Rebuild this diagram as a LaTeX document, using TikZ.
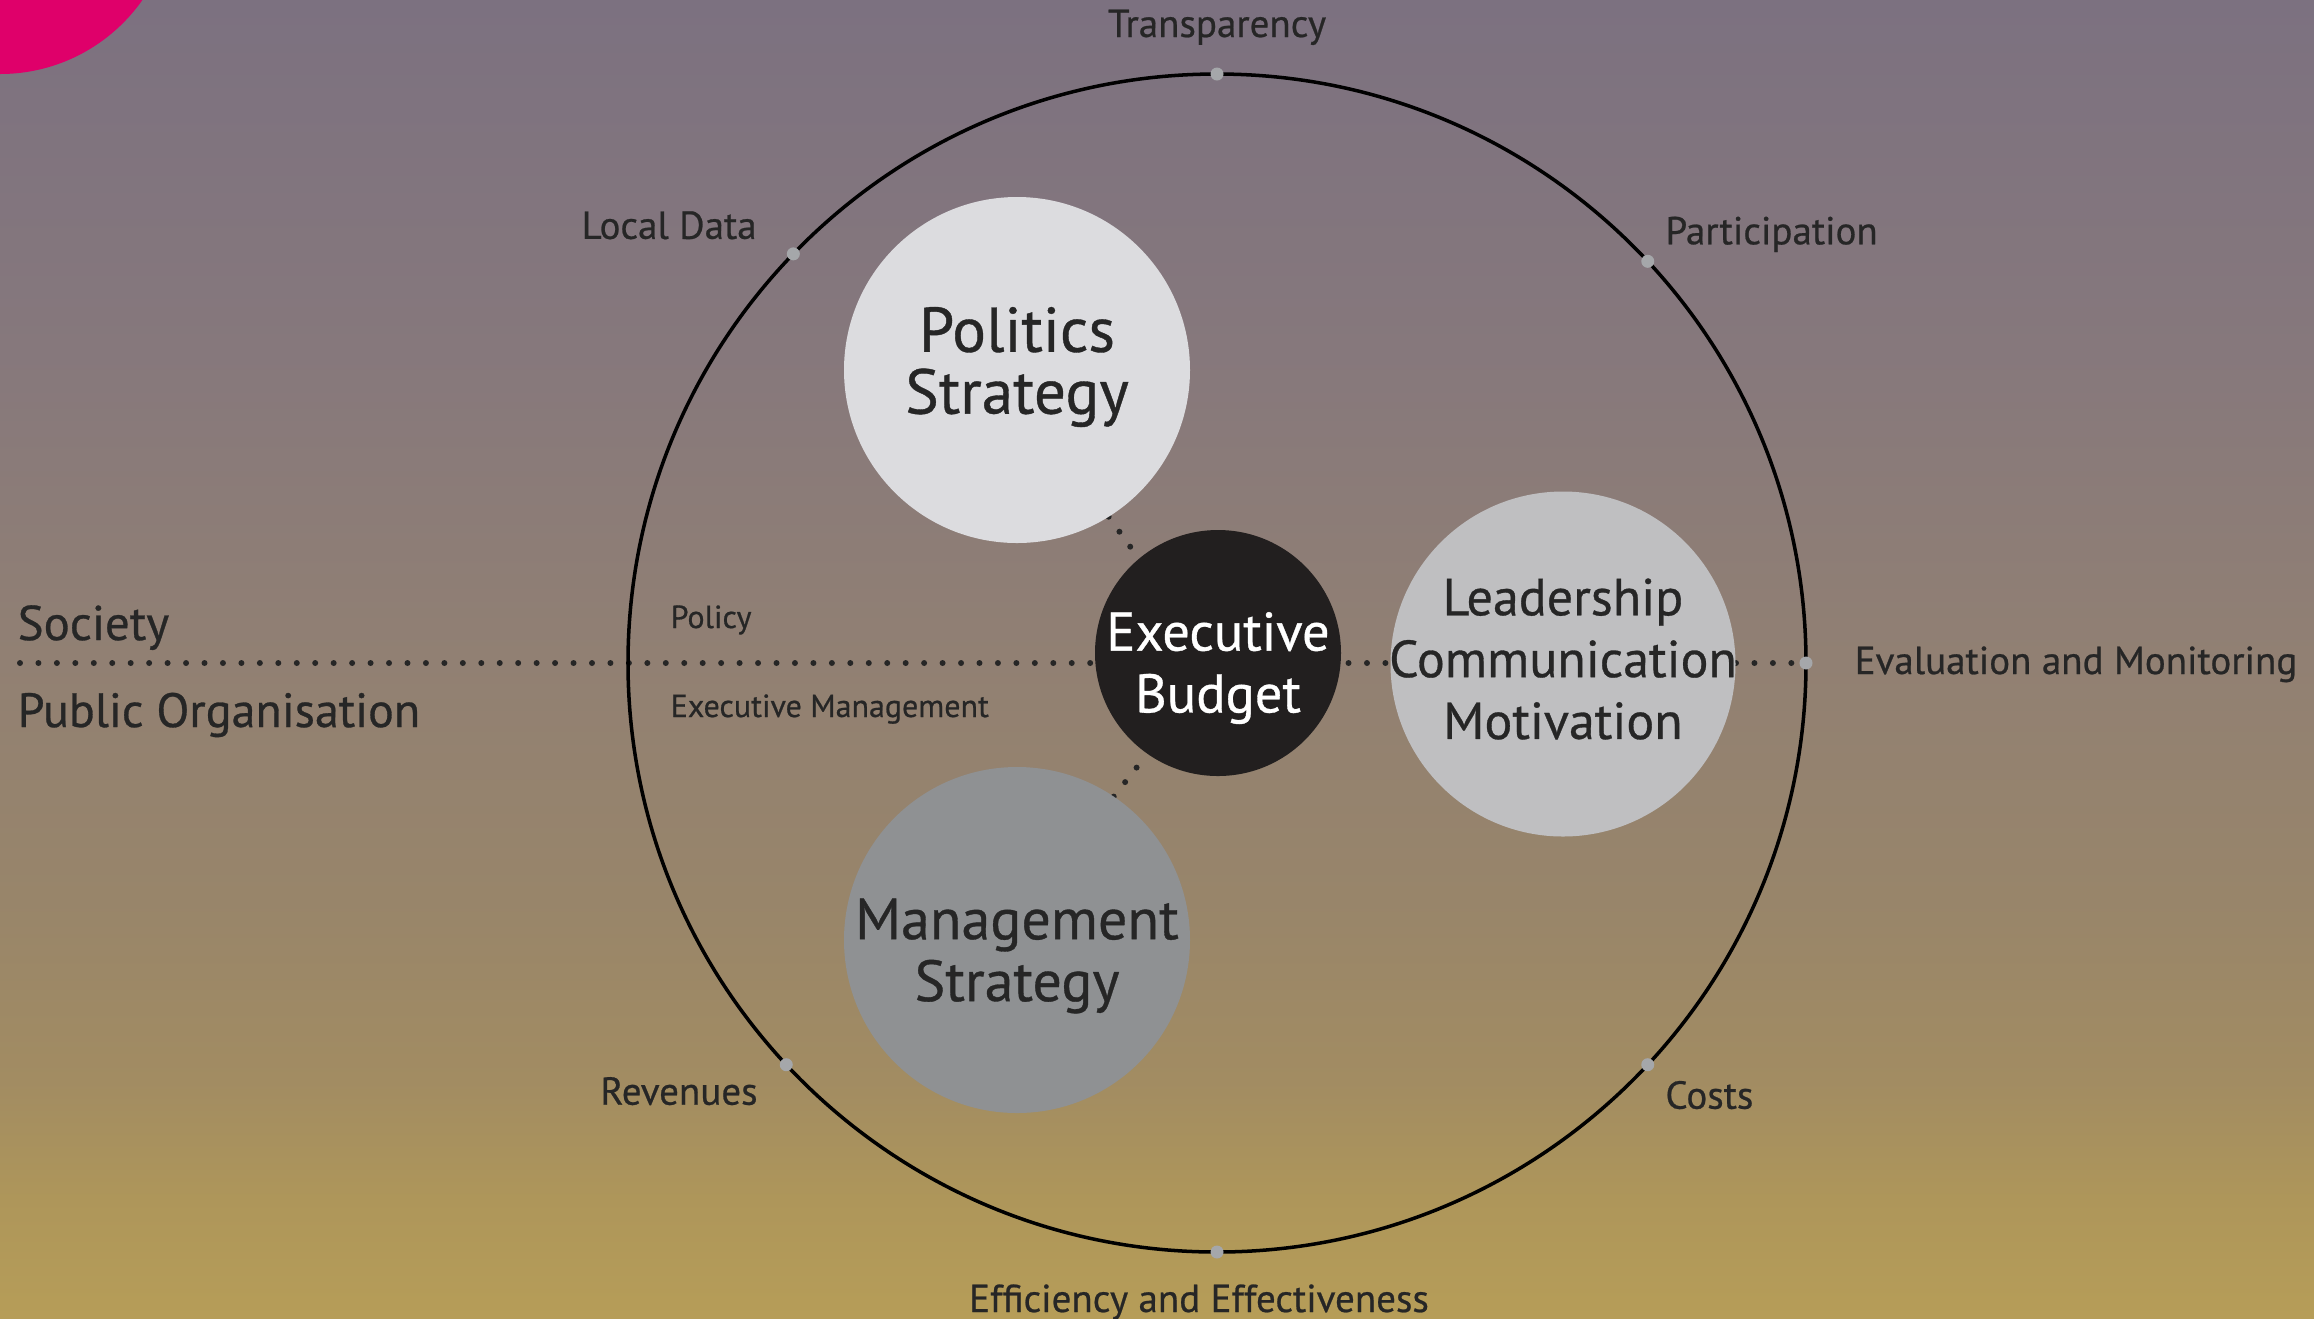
\documentclass[tikz,border=0pt]{standalone}
\usepackage{fontspec}
\setmainfont{PT Sans}[FakeBold=0.6]
\usetikzlibrary{calc}

\definecolor{ink}{HTML}{262626}
\definecolor{ringgrey}{HTML}{A5A7AA}
\definecolor{discA}{HTML}{DCDCDF}
\definecolor{discB}{HTML}{BFBFC1}
\definecolor{discC}{HTML}{8F9193}
\definecolor{discD}{HTML}{221F1F}
\definecolor{pinkdisc}{HTML}{DF006A}
\definecolor{bgA}{RGB}{182,157,88}
\definecolor{bgB}{RGB}{174,150,90}
\definecolor{bgC}{RGB}{162,140,98}
\definecolor{bgD}{RGB}{152,133,106}
\definecolor{bgE}{RGB}{145,128,115}
\definecolor{bgF}{RGB}{134,120,124}
\definecolor{bgG}{RGB}{124,113,128}

\pgfdeclareverticalshading{bgshade}{100bp}{color(0bp)=(bgA); color(25bp)=(bgA);
  color(29.5bp)=(bgB); color(34bp)=(bgC); color(40.9bp)=(bgD); color(50bp)=(bgE);
  color(61.7bp)=(bgF); color(75bp)=(bgG); color(100bp)=(bgG)}

\pgfdeclarelayer{bottom}
\pgfdeclarelayer{back}
\pgfsetlayers{bottom,back,main}

\begin{document}
\begin{tikzpicture}[
    disc/.style={circle, inner sep=0pt, outer sep=0pt, minimum size=3.46cm},
    disctext/.style={align=center, text=ink, inner sep=0pt, font=\fontsize{18}{17.6}\selectfont},
    lbl/.style={text=ink, inner sep=0pt, font=\fontsize{11.1}{13}\selectfont},
    dotline/.style={draw=ink, line width=1.7pt, line cap=round, dash pattern=on 0pt off 5.25pt},
    ringdot/.style={circle, fill=ringgrey, inner sep=0pt, minimum size=0.13cm}]

    % 背景
    \useasboundingbox (0,0) rectangle (23.14,-13.18);
    \begin{pgfonlayer}{bottom}
        \shade[shading=bgshade] (0,0) rectangle (23.14,-13.18);
    \end{pgfonlayer}

    % 左上角的圆
    \begin{scope}
        \clip (0,0) rectangle (23.14,-13.18);
        \fill[pinkdisc] (0,1.00) circle (1.74);
    \end{scope}

    % 大圆
    \node[circle, draw=black, line width=1pt, inner sep=0pt, outer sep=0pt,
          minimum size=11.78cm] (ring) at (12.17,-6.63) {};
    \coordinate (lineend) at (0.20,-6.63);

    % 四个圆
    \node[disc, fill=discA] (politics) at (10.17,-3.70) {};
    \node[disc, fill=discD, minimum size=2.46cm] (exec) at (12.18,-6.53) {};
    \node[disc, fill=discB, minimum size=3.45cm] (leader) at (15.63,-6.64) {};
    \node[disc, fill=discC] (mgmt) at (10.17,-9.40) {};

    \node[disctext] (politicstext) at ([yshift=0.03cm]politics.center) {Politics\\Strategy};
    \node[disctext, text=white, font=\fontsize{15.5}{17.6}\selectfont]
        (exectext) at ([yshift=-0.15cm]exec.center) {Executive\\Budget};
    \node[disctext, font=\fontsize{14.8}{17.6}\selectfont]
        (leadertext) at ([yshift=0.05cm]leader.center) {Leadership\\Communication\\Motivation};
    \node[disctext, font=\fontsize{16.5}{17.6}\selectfont]
        (mgmttext) at ([yshift=-0.16cm]mgmt.center) {Management\\Strategy};

    % 点线
    \begin{pgfonlayer}{back}
        \draw[dotline] (lineend) -- (ring.east);
        \draw[dotline] (politics.-58) -- (exec.130);
        \draw[dotline] (mgmt.56) -- (exec.235);
    \end{pgfonlayer}

    % 大圆上的小点
    \foreach \a/\n in {90/top, 270/bot, 0/right, 43.7/ne, 136.2/nw, 223.2/sw, 317/se} {
        \node[ringdot] (rd\n) at (ring.\a) {};
    }

    % 标注
    \node[lbl, anchor=base] (transp) at ([yshift=0.37cm]rdtop) {Transparency};
    \node[lbl, anchor=base east] (localdata) at ([xshift=-0.36cm, yshift=0.15cm]rdnw) {Local Data};
    \node[lbl, anchor=base west] (partic) at ([xshift=0.17cm, yshift=0.17cm]rdne) {Participation};
    \node[lbl, anchor=base west] (evalmon) at ([xshift=0.48cm, yshift=-0.11cm]rdright) {Evaluation and Monitoring};
    \node[lbl, anchor=base east] (revenues) at ([xshift=-0.28cm, yshift=-0.40cm]rdsw) {Revenues};
    \node[lbl, anchor=base west] (costs) at ([xshift=0.17cm, yshift=-0.44cm]rdse) {Costs};
    \node[lbl, anchor=base] (effic) at ([xshift=-0.18cm, yshift=-0.60cm]rdbot) {Efficiency and Effectiveness};

    \node[lbl, anchor=base west, font=\fontsize{13.9}{16}\selectfont] (society) at (0.17,-6.40) {Society};
    \node[lbl, anchor=base west, font=\fontsize{13.7}{16}\selectfont] (publicorg) at (0.17,-7.27) {Public Organisation};
    \node[lbl, anchor=base west, font=\fontsize{9.1}{11}\selectfont] (policy) at (6.70,-6.28) {Policy};
    \node[lbl, anchor=base west, font=\fontsize{9.1}{11}\selectfont] (execmgmt) at (6.70,-7.17) {Executive Management};
\end{tikzpicture}
\end{document}
